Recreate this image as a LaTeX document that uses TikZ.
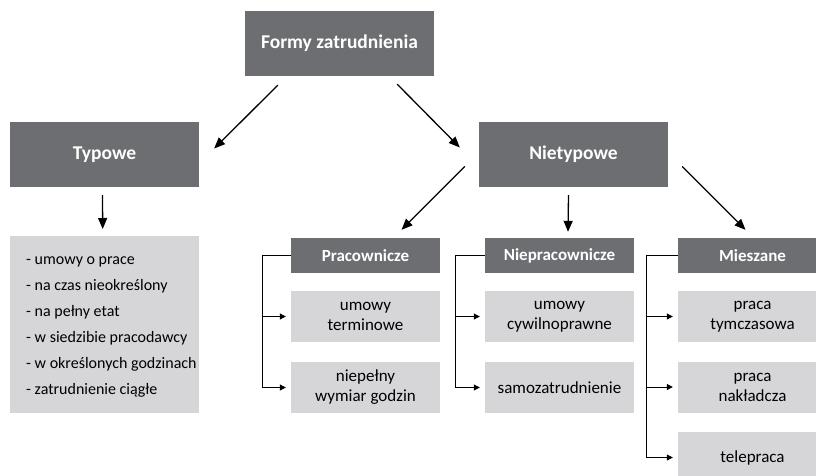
\documentclass[tikz,border=0pt]{standalone}
\usepackage{fontspec}
\setmainfont{Carlito}
\usetikzlibrary{arrows.meta}
\definecolor{ciemny}{HTML}{6D6E71}
\definecolor{jasny}{HTML}{D6D6D8}
\tikzset{
  glowny/.style={fill=ciemny,text=white,inner sep=0pt,minimum width=189pt,minimum height=65pt,font=\bfseries\fontsize{19.5}{22}\selectfont},
  grupa/.style={fill=ciemny,text=white,inner sep=0pt,minimum width=149pt,minimum height=35pt,font=\bfseries\fontsize{17}{20}\selectfont},
  forma/.style={fill=jasny,inner sep=0pt,minimum width=149pt,minimum height=51pt,align=center,font=\fontsize{17}{20}\selectfont},
  strz/.style={-{Triangle[length=11pt,width=9pt]},line width=1.3pt},
  klam/.style={-{Triangle[length=6pt,width=6pt]},line width=1pt,shorten >=5pt}
}
\begin{document}
\begin{tikzpicture}[x=1pt,y=-1pt]
\clip (0,0) rectangle (816,475);
\node[glowny] (formy) at (339.5,43.5) {Formy zatrudnienia};
\node[glowny] (typowe) at (104.5,154.5) {Typowe};
\node[glowny] (nietyp) at (573.5,154.5) {Nietypowe};

\node[fill=jasny,anchor=north west,inner sep=0pt,minimum width=189pt,minimum height=177pt] (lista) at (10,236) {};
\node[anchor=west,inner sep=0pt,align=left,font=\fontsize{16}{26}\selectfont] (listaTxt) at ([xshift=16pt,yshift=-2pt]lista.west)
  {- umowy o prace\\ - na czas nieokreślony\\ - na pełny etat\\
   - w siedzibie pracodawcy\\ - w określonych godzinach\\ - zatrudnienie ciągłe};

\node[grupa] (prac) at (365.5,255.5) {Pracownicze};
\node[forma] (pracA) at (365.5,316.5) {umowy\\terminowe};
\node[forma] (pracB) at (365.5,387.5) {niepełny\\wymiar godzin};

\node[grupa] (nprac) at (559.5,255.5) {Niepracownicze};
\node[forma] (npracA) at (559.5,316.5) {umowy\\cywilnoprawne};
\node[forma] (npracB) at (559.5,387.5) {samozatrudnienie};

\node[grupa] (miesz) at (752.5,255.5) {Mieszane};
\node[forma] (mieszA) at (752.5,316.5) {praca\\tymczasowa};
\node[forma] (mieszB) at (752.5,387) {praca\\nakładcza};
\node[forma] (mieszC) at (752.5,457.5) {telepraca};

\draw[strz] ([shift={(33,9)}]formy.south west) -- ([shift={(15,-6)}]typowe.east);
\draw[strz] ([shift={(-37,8)}]formy.south east) -- ([shift={(-19,-7)}]nietyp.west);
\draw[strz] ([shift={(-2,8)}]typowe.south) -- ([shift={(-2,-7)}]lista.north);
\draw[strz] ([shift={(-14,12)}]nietyp.west) -- ([shift={(36,-8)}]prac.north);
\draw[strz] ([shift={(-5,8)}]nietyp.south) -- ([shift={(8.5,-6)}]nprac.north);
\draw[strz] ([shift={(14,12)}]nietyp.east) -- ([shift={(-7,-8)}]miesz.north);

\draw[klam] (prac.west) -- ++(-28,0) coordinate (pk) |- (pracB.west);
\draw[klam] (pk |- pracA.west) -- (pracA.west);
\draw[klam] (nprac.west) -- ++(-29,0) coordinate (nk) |- (npracB.west);
\draw[klam] (nk |- npracA.west) -- (npracA.west);
\draw[klam] (miesz.west) -- ++(-31,0) coordinate (mk) |- (mieszC.west);
\draw[klam] (mk |- mieszA.west) -- (mieszA.west);
\draw[klam] (mk |- mieszB.west) -- (mieszB.west);
\end{tikzpicture}
\end{document}
